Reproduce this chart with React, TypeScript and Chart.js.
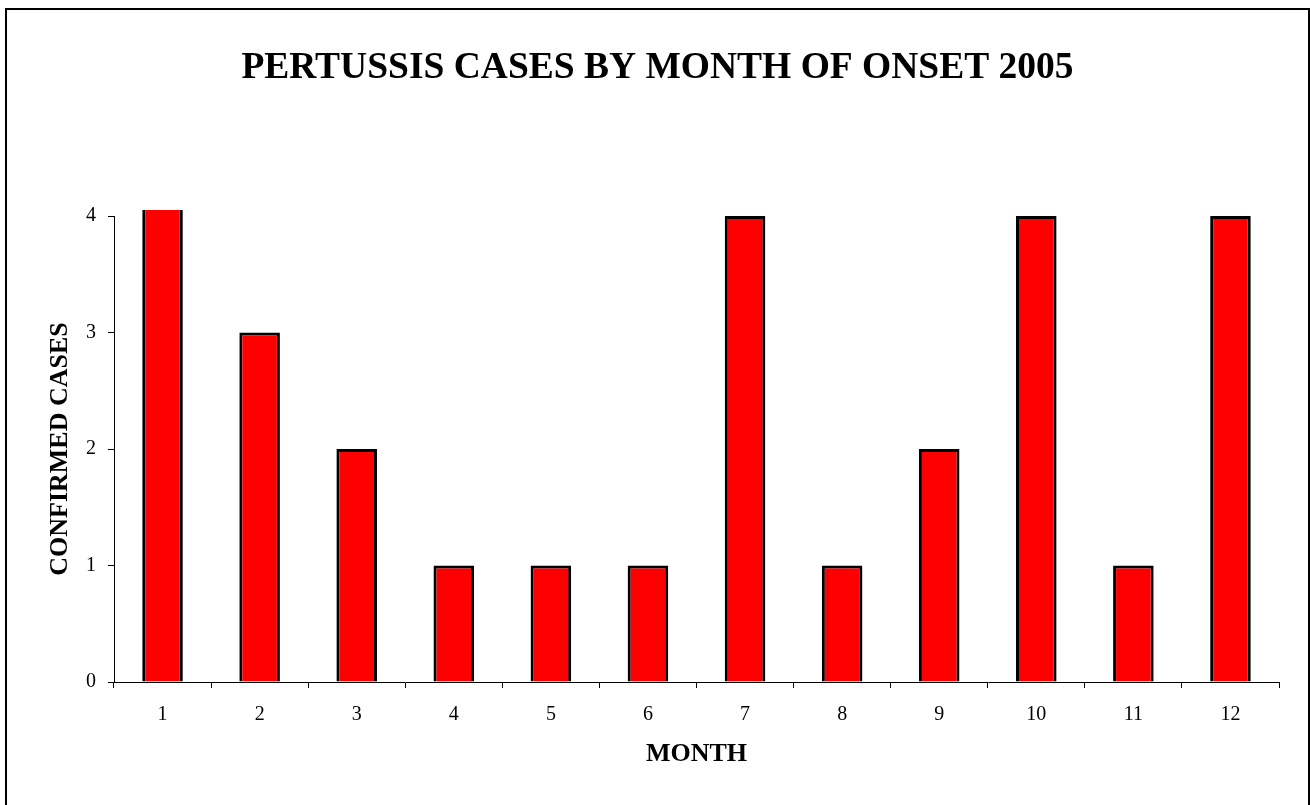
import React, { useEffect, useRef } from "react";
import { Chart, registerables } from "chart.js";

Chart.register(...registerables);

const months = ["1", "2", "3", "4", "5", "6", "7", "8", "9", "10", "11", "12"];
const cases = [5, 3, 2, 1, 1, 1, 4, 1, 2, 4, 1, 4];
const yTicks = [0, 1, 2, 3, 4];

const titleText = "PERTUSSIS CASES BY MONTH OF ONSET 2005";
const xTitle = "MONTH";
const yTitle = "CONFIRMED CASES";

const SERIF = "'Liberation Serif', 'Times New Roman', serif";

export default function App() {
  const ref = useRef<HTMLCanvasElement | null>(null);

  useEffect(() => {
    if (!ref.current) return;
    const chart = new Chart(ref.current, {
      type: "bar",
      data: {
        labels: months,
        datasets: [
          {
            data: cases,
            backgroundColor: "#FF0000",
            borderColor: "#000000",
            borderWidth: 3,
            barPercentage: 0.418,
            categoryPercentage: 1,
            clip: { left: false, top: 6, right: false, bottom: false } as any,
          },
        ],
      },
      options: {
        responsive: false,
        animation: false,
        devicePixelRatio: 1,
        layout: { padding: { left: 36, right: 31, top: 0, bottom: 0 } },
        plugins: {
          legend: { display: false },
          tooltip: { enabled: false },
          title: {
            display: true,
            text: titleText,
            color: "#000",
            font: { family: SERIF, size: 37.5, weight: "bold" },
            padding: { top: 46, bottom: 125 },
          },
        },
        scales: {
          x: {
            grid: {
              display: true,
              drawOnChartArea: false,
              drawTicks: true,
              tickLength: 6,
              color: "#000",
              offset: true,
            },
            border: { display: true, color: "#000", width: 1 },
            ticks: {
              color: "#000",
              font: { family: SERIF, size: 20 },
              padding: 15,
              maxRotation: 0,
            },
            title: {
              display: true,
              text: xTitle,
              color: "#000",
              font: { family: SERIF, size: 26, weight: "bold" },
              padding: { top: 0, bottom: 35 },
            },
            afterFit: (s: any) => {
              s.height = 123;
            },
          },
          y: {
            min: 0,
            max: 4,
            afterBuildTicks: (s: any) => {
              s.ticks = yTicks.map((v) => ({ value: v }));
            },
            grid: {
              display: true,
              drawOnChartArea: false,
              drawTicks: true,
              tickLength: 6,
              color: "#000",
            },
            border: { display: true, color: "#000", width: 1 },
            ticks: {
              color: "#000",
              font: { family: SERIF, size: 20 },
              padding: 12,
            },
            title: {
              display: true,
              text: yTitle,
              color: "#000",
              font: { family: SERIF, size: 26, weight: "bold" },
              padding: { top: 9, bottom: 0 },
            },
            afterFit: (s: any) => {
              s.width = 78;
            },
          },
        },
      },
    });
    return () => chart.destroy();
  }, []);

  return (
    <div
      style={{
        position: "fixed",
        left: 0,
        top: 0,
        width: 1310,
        height: 805,
        overflow: "hidden",
        background: "#fff",
      }}
    >
      <div
        style={{
          position: "absolute",
          left: 5,
          top: 8,
          width: 1301,
          height: 820,
          border: "2px solid #000",
        }}
      />
      <canvas
        ref={ref}
        width={1310}
        height={805}
        style={{ position: "absolute", left: 0, top: 0, width: 1310, height: 805 }}
      />
    </div>
  );
}
